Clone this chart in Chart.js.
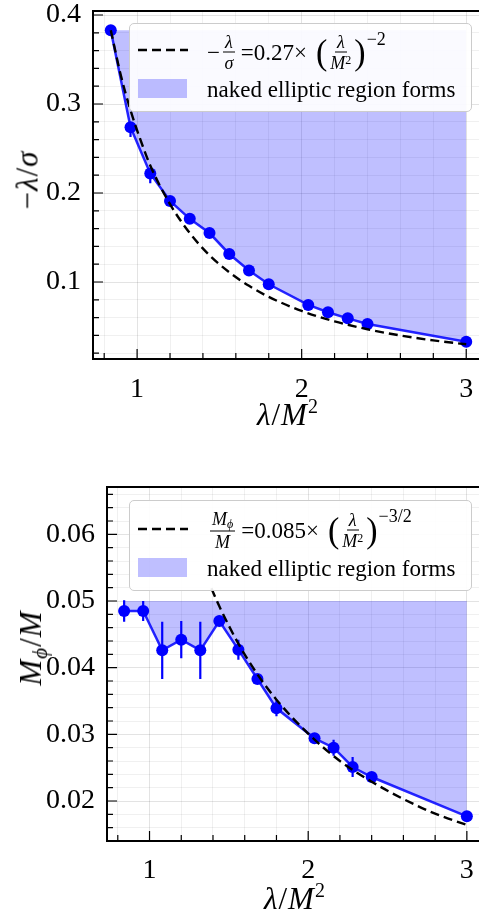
<!DOCTYPE html>
<html>
<head>
<meta charset="utf-8">
<script src="https://cdn.jsdelivr.net/npm/chart.js@4.4.1/dist/chart.umd.min.js"></script>
<style>
  html, body { margin: 0; padding: 0; background: #fff; }
  body { width: 479px; height: 912px; overflow: hidden; position: relative; font-family: 'Liberation Serif', serif; color: #000; }
  .panel { position: absolute; left: 0; }
  .title { position: absolute; white-space: nowrap; font-size: 31px; line-height: 1; letter-spacing: 1px; transform: translate(-50%, -50%); }
  .title.rot { transform: translate(-50%, -50%) rotate(-90deg); }
  .title sup { font-size: 20px; vertical-align: 12px; font-style: normal; }
  .title sub { font-size: 21px; vertical-align: -6px; }
  .legend { position: absolute; border: 1px solid #cccccc; border-radius: 5px; background: rgba(255,255,255,0.92); }
  .lg { position: absolute; white-space: nowrap; font-size: 23px; line-height: 23px; }
  .formula { display: flex; align-items: center; transform: translateY(-50%); }
  .frac { display: inline-flex; flex-direction: column; align-items: center; font-size: 18px; line-height: 1; margin: 0 3px; }
  .frac .num { border-bottom: 1px solid #000; padding: 0 2px 1px 2px; }
  .frac .den { padding-top: 1px; }
  .frac sup { font-size: 12px; vertical-align: 5px; font-style: normal; }
  .frac sub { font-size: 12px; vertical-align: -3px; }
  .paren { font-size: 34px; line-height: 1; display: inline-block; transform: scaleY(1.05); }
  .expo { font-size: 18px; align-self: flex-start; margin-top: -5px; margin-left: 1px; }
  .swatch { position: absolute; width: 49px; height: 19px; background: rgba(0,0,255,0.25); }
</style>
</head>
<body>

<div class="panel" style="top:0; width:490px; height:450px;">
  <canvas id="chartSigma" width="490" height="450"></canvas>
</div>
<div class="panel" style="top:450px; width:490px; height:462px;">
  <canvas id="chartMass" width="490" height="462"></canvas>
</div>

<!-- títulos de los ejes -->
<div class="title" style="left:288px; top:413px;"><i>λ</i>/<i>M</i><sup>2</sup></div>
<div class="title rot" style="left:27px; top:180px;">−<i>λ</i>/<i>σ</i></div>
<div class="title" style="left:295px; top:897px;"><i>λ</i>/<i>M</i><sup>2</sup></div>
<div class="title rot" style="left:33px; top:648px;"><i>M</i><sub><i>ϕ</i></sub>/<i>M</i></div>

<!-- leyenda superior -->
<div class="legend" style="left:129px; top:23px; width:341px; height:87px;"></div>
<svg style="position:absolute; left:138px; top:45px;" width="50" height="10">
  <line x1="0" y1="5" x2="50" y2="5" stroke="#000" stroke-width="2.4" stroke-dasharray="9,5"/>
</svg>
<div class="lg formula" style="left:207px; top:52px;">
  <span>−</span>
  <span class="frac"><span class="num"><i>λ</i></span><span class="den"><i>σ</i></span></span>
  <span style="margin-left:3px;">=0.27×</span>
  <span class="paren" style="margin-left:9px;">(</span>
  <span class="frac"><span class="num"><i>λ</i></span><span class="den"><i>M</i><sup>2</sup></span></span>
  <span class="paren">)</span>
  <span class="expo">−2</span>
</div>
<div class="swatch" style="left:138px; top:79px;"></div>
<div class="lg" style="left:207px; top:78px;">naked elliptic region forms</div>

<!-- leyenda inferior -->
<div class="legend" style="left:129px; top:500px; width:341px; height:89px;"></div>
<svg style="position:absolute; left:138px; top:524px;" width="50" height="10">
  <line x1="0" y1="5" x2="50" y2="5" stroke="#000" stroke-width="2.4" stroke-dasharray="9,5"/>
</svg>
<div class="lg formula" style="left:207px; top:530px;">
  <span class="frac"><span class="num"><i>M</i><sub><i>ϕ</i></sub></span><span class="den"><i>M</i></span></span>
  <span style="margin-left:3px;">=0.085×</span>
  <span class="paren" style="margin-left:9px;">(</span>
  <span class="frac"><span class="num"><i>λ</i></span><span class="den"><i>M</i><sup>2</sup></span></span>
  <span class="paren">)</span>
  <span class="expo">−3/2</span>
</div>
<div class="swatch" style="left:138px; top:558px;"></div>
<div class="lg" style="left:207px; top:557px;">naked elliptic region forms</div>

<script>
// Valores
const lambdaVals = [0.84, 0.96, 1.08, 1.20, 1.32, 1.44, 1.56, 1.68, 1.80, 2.04, 2.16, 2.28, 2.40, 3.00];

// panel superior: -lambda/sigma
const sigmaVals = [0.383, 0.274, 0.222, 0.191, 0.171, 0.155, 0.1315, 0.113, 0.0975, 0.0742, 0.066, 0.0592, 0.0528, 0.033];
const sigmaErrLow = [0.002, 0.011, 0.011, 0.002, 0.002, 0.002, 0.002, 0.002, 0.002, 0.002, 0.002, 0.002, 0.002, 0.002];
const sigmaErrHigh = [0.002, 0.005, 0.005, 0.002, 0.002, 0.002, 0.002, 0.002, 0.002, 0.002, 0.002, 0.002, 0.002, 0.002];
const sigmaFitX = [0.84, 0.90, 0.96, 1.02, 1.08, 1.20, 1.32, 1.44, 1.56, 1.68, 1.80, 2.00, 2.20, 2.40, 2.60, 2.80, 3.00];
const sigmaFitY = [0.383, 0.333, 0.293, 0.260, 0.231, 0.1875, 0.155, 0.130, 0.111, 0.0957, 0.0833, 0.0675, 0.0558, 0.0469, 0.0399, 0.0344, 0.030];
const sigmaFillTop = 0.383;

// panel inferior: M_phi/M
const massVals = [0.0485, 0.0485, 0.0426, 0.0442, 0.0426, 0.0470, 0.0427, 0.0383, 0.0339, 0.0294, 0.0280, 0.0251, 0.0236, 0.0177];
const massErr = [0.0016, 0.0015, 0.0043, 0.0028, 0.0043, 0.0008, 0.0015, 0.0007, 0.0012, 0.0005, 0.0012, 0.0015, 0.0005, 0.0005];
const massFitX = [1.39, 1.44, 1.56, 1.68, 1.80, 2.00, 2.20, 2.40, 2.60, 2.80, 3.00];
const massFitY = [0.0519, 0.0492, 0.0436, 0.0390, 0.0352, 0.0301, 0.0260, 0.0229, 0.0203, 0.0181, 0.0164];
const massFillTop = 0.05;

// etiquetas de los ejes
const xMajor = [1, 2, 3];
const xTickLabels = ['1', '2', '3'];
const sigmaMajor = [0.1, 0.2, 0.3, 0.4];
const sigmaTickLabels = ['0.1', '0.2', '0.3', '0.4'];
const massMajor = [0.02, 0.03, 0.04, 0.05, 0.06];
const massTickLabels = ['0.02', '0.03', '0.04', '0.05', '0.06'];

const X_MIN = 0.732, X_MAX = 3.108;
const BLUE = 'rgb(0,0,255)';
const tickFont = { family: "'Liberation Serif', serif", size: 28 };

const toPoints = (xs, ys) => xs.map((x, i) => ({ x: x, y: ys[i] }));

function ticksBetween(start, stop, step) {
    const out = [];
    const n = Math.round((stop - start) / step);
    for (let i = 0; i <= n; i++) out.push({ value: +(start + i * step).toFixed(5) });
    return out;
}

function labelFor(v, majors, labels) {
    const i = majors.findIndex(m => Math.abs(m - v) < 1e-6);
    return i < 0 ? '' : labels[i];
}

const isMajor = (v, majors) => majors.some(m => Math.abs(m - v) < 1e-6);

// quitar el relleno extra que Chart.js deja para las etiquetas de los extremos
function noPadding(s) {
    s.paddingTop = 0;
    s.paddingBottom = 0;
    s.paddingLeft = 0;
    s.paddingRight = 0;
}

// Barras de error, dibujadas después del relleno y antes de la línea
const errorBars = {
    id: 'errorBars',
    afterDatasetDraw(chart, args, opts) {
        if (args.index !== 2) return;
        const { ctx, scales: { x, y } } = chart;
        ctx.save();
        ctx.strokeStyle = BLUE;
        ctx.lineWidth = 2.2;
        ctx.beginPath();
        opts.xs.forEach((xv, i) => {
            const px = x.getPixelForValue(xv);
            ctx.moveTo(px, y.getPixelForValue(opts.ys[i] - opts.low[i]));
            ctx.lineTo(px, y.getPixelForValue(opts.ys[i] + opts.high[i]));
        });
        ctx.stroke();
        ctx.restore();
    }
};

// Marcas hacia dentro y marco del gráfico (estilo matplotlib)
const frameTicks = {
    id: 'frameTicks',
    afterDraw(chart, args, opts) {
        const { ctx, chartArea: a, scales: { x, y } } = chart;
        ctx.save();
        ctx.strokeStyle = '#000';
        ctx.lineWidth = 1.2;
        ctx.beginPath();
        x.ticks.forEach(t => {
            const px = x.getPixelForValue(t.value);
            const len = isMajor(t.value, xMajor) ? 10 : 6;
            ctx.moveTo(px, a.bottom);
            ctx.lineTo(px, a.bottom - len);
        });
        y.ticks.forEach(t => {
            const py = y.getPixelForValue(t.value);
            const len = isMajor(t.value, opts.yMajor) ? 10 : 6;
            ctx.moveTo(a.left, py);
            ctx.lineTo(a.left + len, py);
        });
        ctx.stroke();
        ctx.lineWidth = 2;
        ctx.strokeRect(a.left, a.top, a.right - a.left, a.bottom - a.top);
        ctx.restore();
    }
};

function makeChart(canvasId, cfg) {
    const ctx = document.getElementById(canvasId).getContext('2d');
    const points = toPoints(lambdaVals, cfg.values);
    return new Chart(ctx, {
        type: 'line',
        data: {
            datasets: [
                {
                    // ajuste (línea discontinua)
                    data: toPoints(cfg.fitX, cfg.fitY),
                    borderColor: '#000',
                    borderWidth: 2.4,
                    borderDash: [9, 5],
                    pointRadius: 0,
                    cubicInterpolationMode: 'monotone',
                    fill: false,
                    order: 0
                },
                {
                    // datos
                    data: points,
                    borderColor: 'rgba(0,0,255,0.85)',
                    borderWidth: 2.5,
                    pointRadius: 6,
                    pointBackgroundColor: BLUE,
                    pointBorderWidth: 0,
                    fill: false,
                    order: 1
                },
                {
                    // región elíptica
                    data: points,
                    borderWidth: 0,
                    borderColor: 'transparent',
                    pointRadius: 0,
                    backgroundColor: 'rgba(0,0,255,0.25)',
                    fill: { value: cfg.fillTop },
                    order: 2
                }
            ]
        },
        options: {
            responsive: false,
            animation: false,
            layout: { padding: { top: cfg.padTop, right: 6, left: 0, bottom: 0 } },
            plugins: {
                legend: { display: false },
                tooltip: { enabled: false },
                errorBars: { xs: lambdaVals, ys: cfg.values, low: cfg.errLow, high: cfg.errHigh },
                frameTicks: { yMajor: cfg.yMajor }
            },
            scales: {
                x: {
                    type: 'linear',
                    min: X_MIN,
                    max: X_MAX,
                    afterBuildTicks: s => { s.ticks = ticksBetween(0.8, 3.0, 0.2); },
                    afterFit: s => { s.height = cfg.xHeight; noPadding(s); },
                    border: { display: false },
                    grid: {
                        drawTicks: false,
                        color: c => isMajor(c.tick.value, xMajor) ? 'rgba(0,0,0,0.11)' : 'rgba(0,0,0,0.06)'
                    },
                    ticks: {
                        autoSkip: false,
                        maxRotation: 0,
                        padding: cfg.xPad,
                        color: '#000',
                        font: tickFont,
                        callback: v => labelFor(v, xMajor, xTickLabels)
                    }
                },
                y: {
                    type: 'linear',
                    min: cfg.yMin,
                    max: cfg.yMax,
                    afterBuildTicks: s => { s.ticks = ticksBetween(cfg.yTickStart, cfg.yTickEnd, cfg.yStep); },
                    afterFit: s => { s.width = cfg.yWidth; noPadding(s); },
                    border: { display: false },
                    grid: {
                        drawTicks: false,
                        color: c => isMajor(c.tick.value, cfg.yMajor) ? 'rgba(0,0,0,0.11)' : 'rgba(0,0,0,0.06)'
                    },
                    ticks: {
                        autoSkip: false,
                        padding: 12,
                        color: '#000',
                        font: tickFont,
                        callback: v => labelFor(v, cfg.yMajor, cfg.yLabels)
                    }
                }
            }
        },
        plugins: [errorBars, frameTicks]
    });
}

makeChart('chartSigma', {
    values: sigmaVals,
    errLow: sigmaErrLow,
    errHigh: sigmaErrHigh,
    fitX: sigmaFitX,
    fitY: sigmaFitY,
    fillTop: sigmaFillTop,
    yMin: 0.0135, yMax: 0.4045,
    yTickStart: 0.02, yTickEnd: 0.40, yStep: 0.02,
    yMajor: sigmaMajor, yLabels: sigmaTickLabels,
    padTop: 11, xHeight: 91, yWidth: 93, xPad: 14
});

makeChart('chartMass', {
    values: massVals,
    errLow: massErr,
    errHigh: massErr,
    fitX: massFitX,
    fitY: massFitY,
    fillTop: massFillTop,
    yMin: 0.014, yMax: 0.0671,
    yTickStart: 0.016, yTickEnd: 0.066, yStep: 0.002,
    yMajor: massMajor, yLabels: massTickLabels,
    padTop: 37, xHeight: 71, yWidth: 107, xPad: 13
});
</script>
</body>
</html>
